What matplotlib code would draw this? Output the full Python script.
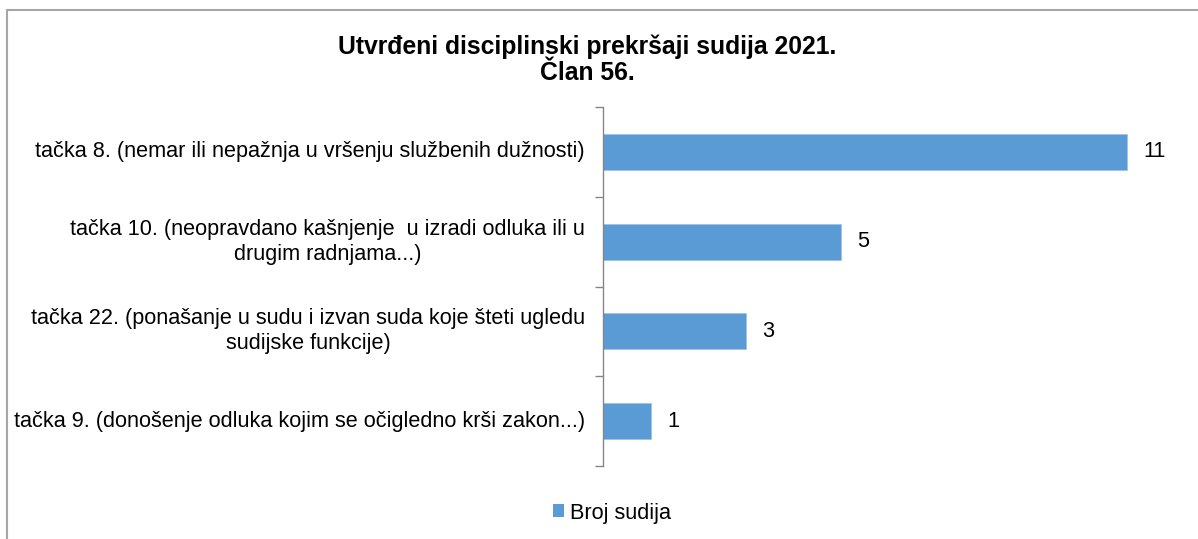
import matplotlib
matplotlib.use("Agg")
import matplotlib.pyplot as plt
from matplotlib.patches import Rectangle, Patch

plt.rcParams['font.family'] = ['Liberation Sans', 'DejaVu Sans']

categories = [
    "tačka 8. (nemar ili nepažnja u vršenju službenih dužnosti)",
    "tačka 10. (neopravdano kašnjenje  u izradi odluka ili u\ndrugim radnjama...)",
    "tačka 22. (ponašanje u sudu i izvan suda koje šteti ugledu\nsudijske funkcije)",
    "tačka 9. (donošenje odluka kojim se očigledno krši zakon...)",
]
values = [11, 5, 3, 1]
series_name = "Broj sudija"
title = "Utvrđeni disciplinski prekršaji sudija 2021.\nČlan 56."

bar_color = "#5B9BD5"
axis_color = "#868686"
FS = 15.6

W, H = 1198, 539
fig = plt.figure(figsize=(W / 100, H / 100), dpi=100)

# outer chart frame (clipped by image on right/bottom)
fig.patches.append(Rectangle((7 / W, -0.1), 1.2, (H - 10) / H + 0.1,
                             transform=fig.transFigure, fill=False,
                             edgecolor="#A6A6A6", linewidth=1.5))

left, right, top, bottom = 603, 603 + 12 * 47.6, 107, 466
ax = fig.add_axes([left / W, (H - bottom) / H, (right - left) / W, (bottom - top) / H])

n = len(categories)
pos = list(range(n))
ax.barh(pos, values, height=0.4, color=bar_color, edgecolor="#9DC3E6", linewidth=0.6)
ax.set_ylim(n - 0.5, -0.5)
ax.set_xlim(0, 12)

for p, v in zip(pos, values):
    ax.annotate(str(v), xy=(v, p), xytext=(12, 0), textcoords="offset points",
                ha="left", va="center", fontsize=FS, color="#000000")

for s in ["top", "right", "bottom"]:
    ax.spines[s].set_visible(False)
ax.spines["left"].set_color(axis_color)
ax.spines["left"].set_linewidth(1.0)
ax.set_xticks([])
ax.set_yticks([p - 0.5 for p in pos] + [n - 0.5])
ax.set_yticklabels([])
ax.tick_params(axis="y", length=6, color=axis_color, width=1.0, direction="out")

for p, c in zip(pos, categories):
    ax.text(-18 / 47.6, p, c, ha="right", va="center", multialignment="center",
            fontsize=FS, color="#000000", linespacing=1.25)

fig.text(587 / W, 1 - 60 / H, title, ha="center", va="center", fontsize=17.8,
         fontweight="bold", linespacing=1.08)

fig.legend(handles=[Patch(facecolor=bar_color, label=series_name)],
           loc="center", bbox_to_anchor=(612 / W, 1 - 513 / H), frameon=False,
           fontsize=FS, handlelength=0.5, handleheight=0.55, handletextpad=0.3)

fig.savefig("out.png", dpi=100, facecolor="white")
